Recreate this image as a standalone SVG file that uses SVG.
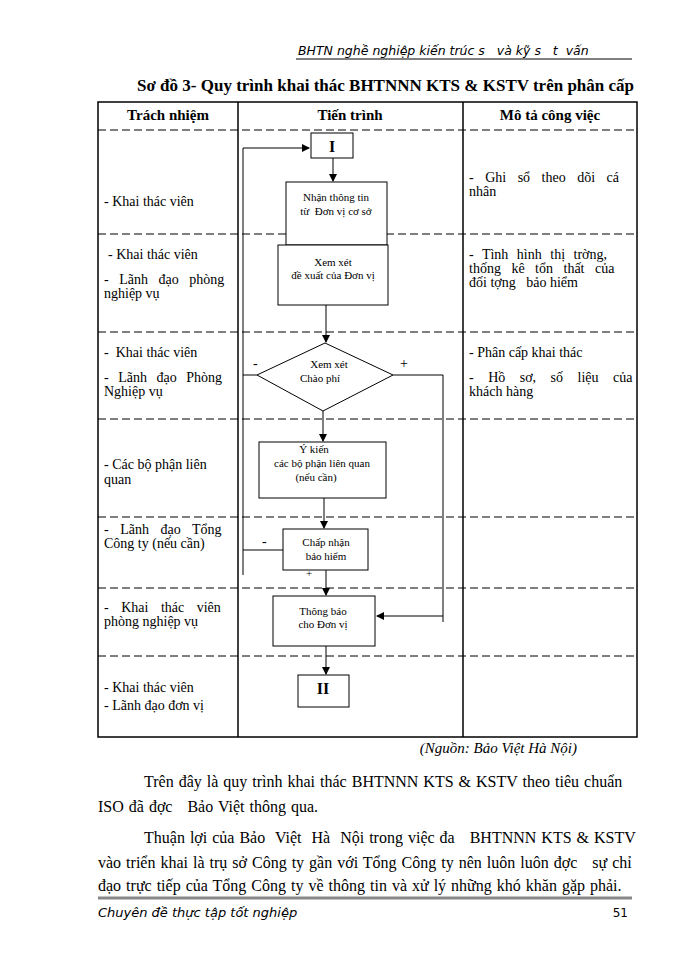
<svg xmlns="http://www.w3.org/2000/svg" width="700" height="960" viewBox="0 0 700 960">
<defs>
<marker id="ah" markerWidth="8" markerHeight="8" refX="7" refY="4" orient="auto" markerUnits="userSpaceOnUse"><path d="M0,0 L8,4 L0,8 Z" fill="#000"/></marker>
</defs>
<style>
text{font-family:"Liberation Serif",serif;fill:#000;white-space:pre}
.t{font-size:14px}
.s{font-size:11px}
.b{font-weight:bold}
.box{fill:#fff;stroke:#000;stroke-width:1}
.ln{fill:none;stroke:#000;stroke-width:1}
.dash{stroke:#000;stroke-width:1;stroke-dasharray:8,4}
.cell{fill:none;stroke:#000;stroke-width:1.5}
.p{font-size:16px;word-spacing:1px}
</style>
<rect width="700" height="960" fill="#fff"/>
<text x="298" y="55" style="font-family:'DejaVu Sans',sans-serif;font-size:12.5px;font-style:italic">BHTN nghề nghiệp kiến trúc s   và kỹ s   t  vấn</text>
<line x1="296" y1="59" x2="632" y2="59" stroke="#000" stroke-width="1"/>
<text x="137" y="91" class="b" style="font-size:17px">Sơ đồ 3- Quy trình khai thác BHTNNN KTS &amp; KSTV trên phân cấp</text>
<g id="table">
<rect x="98" y="102" width="539" height="635" class="cell"/>
<line x1="238" y1="102" x2="238" y2="737" class="cell"/>
<line x1="463" y1="102" x2="463" y2="737" class="cell"/>
<line x1="98" y1="130" x2="637" y2="130" class="dash"/>
<line x1="98" y1="234" x2="637" y2="234" class="dash"/>
<line x1="98" y1="332" x2="637" y2="332" class="dash"/>
<line x1="98" y1="419" x2="637" y2="419" class="dash"/>
<line x1="98" y1="517" x2="637" y2="517" class="dash"/>
<line x1="98" y1="588" x2="637" y2="588" class="dash"/>
<line x1="98" y1="656" x2="637" y2="656" class="dash"/>
<text x="168" y="120" class="b" text-anchor="middle" style="font-size:15px">Trách nhiệm</text>
<text x="350" y="120" class="b" text-anchor="middle" style="font-size:15px">Tiến trình</text>
<text x="550" y="120" class="b" text-anchor="middle" style="font-size:15px">Mô tả công việc</text>
</g>
<g id="col1">
<text x="104" y="206" class="t">- Khai thác viên</text>
<text x="108" y="259" class="t">- Khai thác viên</text>
<text x="104" y="284" class="t" style="word-spacing:7px">- Lãnh đạo phòng</text>
<text x="104" y="298" class="t">nghiệp vụ</text>
<text x="104" y="357" class="t">-  Khai thác viên</text>
<text x="104" y="382" class="t" style="word-spacing:6px">- Lãnh đạo Phòng</text>
<text x="104" y="396" class="t">Nghiệp vụ</text>
<text x="104" y="469" class="t">- Các bộ phận liên</text>
<text x="104" y="484" class="t">quan</text>
<text x="104" y="534" class="t" style="word-spacing:8px">- Lãnh đạo Tổng</text>
<text x="104" y="548" class="t">Công ty (nếu cần)</text>
<text x="104" y="612" class="t" style="word-spacing:9px">- Khai thác viên</text>
<text x="104" y="626" class="t">phòng nghiệp vụ</text>
<text x="104" y="692" class="t">- Khai thác viên</text>
<text x="104" y="710" class="t">- Lãnh đạo đơn vị</text>
</g>
<g id="col3">
<text x="469" y="182" class="t" style="word-spacing:8px">- Ghi sổ theo dõi cá</text>
<text x="469" y="196" class="t">nhân</text>
<text x="469" y="259" class="t" style="word-spacing:5px">- Tình hình thị trờng,</text>
<text x="469" y="273" class="t" style="word-spacing:7px">thống kê tổn thất của</text>
<text x="469" y="287" class="t">đối tợng   bảo hiểm</text>
<text x="469" y="357" class="t">- Phân cấp khai thác</text>
<text x="469" y="382" class="t" style="word-spacing:11px">- Hồ sơ, số liệu của</text>
<text x="469" y="396" class="t">khách hàng</text>
</g>
<g id="connectors">
<polyline points="243,575 243,148 309,148" class="ln" marker-end="url(#ah)"/>
<line x1="333" y1="158" x2="333" y2="181" class="ln" marker-end="url(#ah)"/>
<line x1="328" y1="245" x2="328" y2="263" class="ln" marker-end="url(#ah)"/>
<line x1="326" y1="305" x2="326" y2="342" class="ln" marker-end="url(#ah)"/>
<line x1="257" y1="375" x2="243" y2="375" class="ln"/>
<polyline points="393,375 443,375 443,622" class="ln"/>
<line x1="443" y1="616" x2="377" y2="616" class="ln" marker-end="url(#ah)"/>
<line x1="323" y1="411" x2="323" y2="441" class="ln" marker-end="url(#ah)"/>
<line x1="324" y1="498" x2="324" y2="528" class="ln" marker-end="url(#ah)"/>
<line x1="283" y1="550" x2="243" y2="550" class="ln"/>
<line x1="326" y1="570" x2="326" y2="595" class="ln" marker-end="url(#ah)"/>
<line x1="326" y1="646" x2="326" y2="674" class="ln" marker-end="url(#ah)"/>
<text x="253" y="368" class="t">-</text>
<text x="400" y="368" class="t">+</text>
<text x="262" y="546" class="t">-</text>
<text x="306" y="577" class="s">+</text>
</g>
<g id="nodeI"><rect x="311" y="133" width="42" height="25" class="box"/><text x="332" y="152" class="b" text-anchor="middle" style="font-size:16px">I</text></g>
<g id="nhan"><rect x="286" y="182" width="101" height="63" class="box"/><text x="336" y="201" class="s" text-anchor="middle">Nhận thông tin</text><text x="336" y="215" class="s" text-anchor="middle">từ  Đơn vị cơ sở</text></g>
<g id="xem"><rect x="278" y="245" width="110" height="60" class="box"/><text x="333" y="266" class="s" text-anchor="middle">Xem xét</text><text x="333" y="279" class="s" text-anchor="middle">đề xuất của Đơn vị</text></g>
<g id="diamond"><polygon points="325,343 393,375 323,411 257,375" class="box"/><text x="329" y="368" class="s" text-anchor="middle">Xem xét</text><text x="320" y="382" class="s" text-anchor="middle">Chào phí</text></g>
<g id="ykien"><rect x="259" y="442" width="127" height="56" class="box"/><text x="314" y="453" class="s" text-anchor="middle">Ý kiến</text><text x="322" y="467" class="s" text-anchor="middle">các bộ phận liên quan</text><text x="316" y="481" class="s" text-anchor="middle">(nếu cần)</text></g>
<g id="chap"><rect x="283" y="529" width="85" height="41" class="box"/><text x="326" y="546" class="s" text-anchor="middle">Chấp nhận</text><text x="326" y="560" class="s" text-anchor="middle">bảo hiểm</text></g>
<g id="thong"><rect x="273" y="596" width="102" height="50" class="box"/><text x="323" y="615" class="s" text-anchor="middle">Thông báo</text><text x="323" y="628" class="s" text-anchor="middle">cho Đơn vị</text></g>
<g id="nodeII"><rect x="298" y="675" width="51" height="32" class="box"/><text x="323" y="694" class="b" text-anchor="middle" style="font-size:16px">II</text></g>
<text x="577" y="753" text-anchor="end" style="font-size:15px;font-style:italic">(Nguồn: Bảo Việt Hà Nội)</text>
<g id="body">
<text x="144" y="787" class="p">Trên đây là quy trình khai thác BHTNNN KTS &amp; KSTV theo tiêu chuẩn</text>
<text x="98" y="812" class="p">ISO đã đợc   Bảo Việt thông qua.</text>
<text x="144" y="843" class="p">Thuận lợi của Bảo  Việt  Hà  Nội trong việc đa   BHTNNN KTS &amp; KSTV</text>
<text x="98" y="868" class="p">vào triển khai là trụ sở Công ty gần với Tổng Công ty nên luôn luôn đợc   sự chỉ</text>
<text x="98" y="891" class="p">đạo trực tiếp của Tổng Công ty về thông tin và xử lý những khó khăn gặp phải.</text>
</g>
<line x1="98" y1="898" x2="632" y2="898" stroke="#888" stroke-width="3"/>
<text x="98" y="917" style="font-family:'DejaVu Sans',sans-serif;font-size:13px;font-style:italic">Chuyên đề thực tập tốt nghiệp</text>
<text x="628" y="917" text-anchor="end" style="font-family:'DejaVu Sans',sans-serif;font-size:12px">51</text>
</svg>
